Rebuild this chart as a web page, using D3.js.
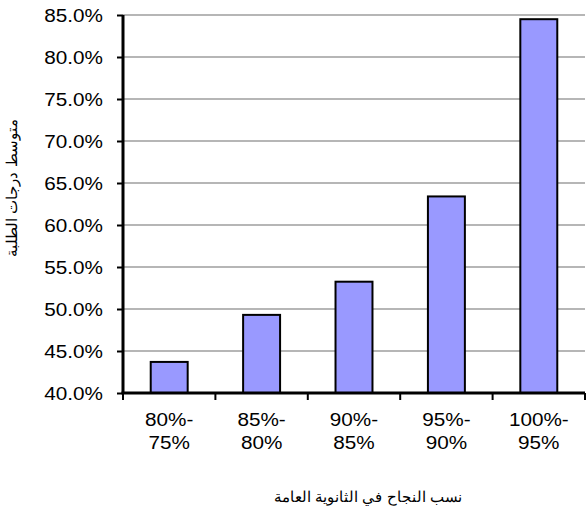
<!DOCTYPE html>
<html>
<head>
<meta charset="utf-8">
<script src="https://cdn.jsdelivr.net/npm/d3@7"></script>
<style>
  body { margin: 0; background: #fff; }
  text { font-family: "Liberation Sans", Arial, sans-serif; fill: #000; }
</style>
</head>
<body>
<svg id="chart" width="587" height="509"></svg>
<script>
// data
const categories = ["80%-\n75%", "85%-\n80%", "90%-\n85%", "95%-\n90%", "100%-\n95%"];
const values = [0.437, 0.493, 0.5325, 0.634, 0.845];
const yTicks = [0.40, 0.45, 0.50, 0.55, 0.60, 0.65, 0.70, 0.75, 0.80, 0.85];
const xTitle = "نسب النجاح في الثانوية العامة";
const yTitle = "متوسط درجات الطلبة";

const svg = d3.select("#chart");
const plot = { left: 123, right: 585, top: 15, bottom: 393 };
const stretch = 1.12;   // the original text is drawn a bit wider than the font
const fontSize = 18.5;

const x = d3.scaleBand().domain(categories).range([plot.left, plot.right])
    .paddingInner(0.6).paddingOuter(0.3);
const y = d3.scaleLinear().domain([0.40, 0.85]).range([plot.bottom, plot.top]);

// gridlines
svg.append("g").attr("id", "grid")
    .selectAll("line")
    .data(yTicks.slice(1))
    .join("line")
    .attr("x1", plot.left).attr("x2", plot.right)
    .attr("y1", d => y(d)).attr("y2", d => y(d))
    .attr("stroke", "#6e6e6e").attr("stroke-width", 1.2);

// bars
svg.append("g").attr("id", "bars")
    .selectAll("rect")
    .data(values)
    .join("rect")
    .attr("x", (d, i) => x(categories[i]))
    .attr("width", x.bandwidth())
    .attr("y", d => y(d))
    .attr("height", d => y(0.40) - y(d))
    .attr("fill", "#9999ff")
    .attr("stroke", "#000").attr("stroke-width", 2);

// y axis
const yAxis = svg.append("g").attr("id", "yAxis")
    .attr("transform", `translate(${plot.left},0)`)
    .call(d3.axisLeft(y).tickValues(yTicks).tickFormat(d3.format(".1%")).tickSize(6));
yAxis.select(".domain").attr("stroke", "#000").attr("stroke-width", 3)
    .attr("d", `M0,${plot.top}V${plot.bottom + 1}`);
yAxis.selectAll(".tick line").attr("stroke", "#000").attr("stroke-width", 2);
yAxis.selectAll(".tick text")
    .attr("font-size", fontSize)
    .attr("x", -20 / stretch)
    .attr("dy", "0.36em")
    .attr("transform", `scale(${stretch},1)`);

// x axis
const step = x.step();
const bounds = categories.map(c => x(c) - step * 0.3).concat([plot.right]);
const xAxis = svg.append("g").attr("id", "xAxis");
xAxis.append("line")
    .attr("x1", plot.left - 1.5).attr("x2", plot.right)
    .attr("y1", plot.bottom).attr("y2", plot.bottom)
    .attr("stroke", "#000").attr("stroke-width", 3);
xAxis.selectAll("line.tick")
    .data(bounds)
    .join("line").attr("class", "tick")
    .attr("x1", d => d).attr("x2", d => d)
    .attr("y1", plot.bottom).attr("y2", plot.bottom + 7)
    .attr("stroke", "#000").attr("stroke-width", 2);
xAxis.selectAll("text")
    .data(categories)
    .join("text")
    .attr("text-anchor", "middle")
    .attr("font-size", fontSize)
    .attr("transform", d => `translate(${x(d) + x.bandwidth() / 2},0) scale(${stretch},1)`)
    .selectAll("tspan")
    .data(d => d.split("\n"))
    .join("tspan")
    .attr("x", 0)
    .attr("y", (p, i) => 426 + i * 23)
    .text(p => p);

// axis titles
svg.append("text")
    .attr("x", 368).attr("y", 502)
    .attr("text-anchor", "middle")
    .attr("font-size", 15)
    .attr("direction", "rtl")
    .text(xTitle);
svg.append("text")
    .attr("transform", "translate(17,188) rotate(-90)")
    .attr("text-anchor", "middle")
    .attr("font-size", 15)
    .attr("direction", "rtl")
    .text(yTitle);
</script>
</body>
</html>
